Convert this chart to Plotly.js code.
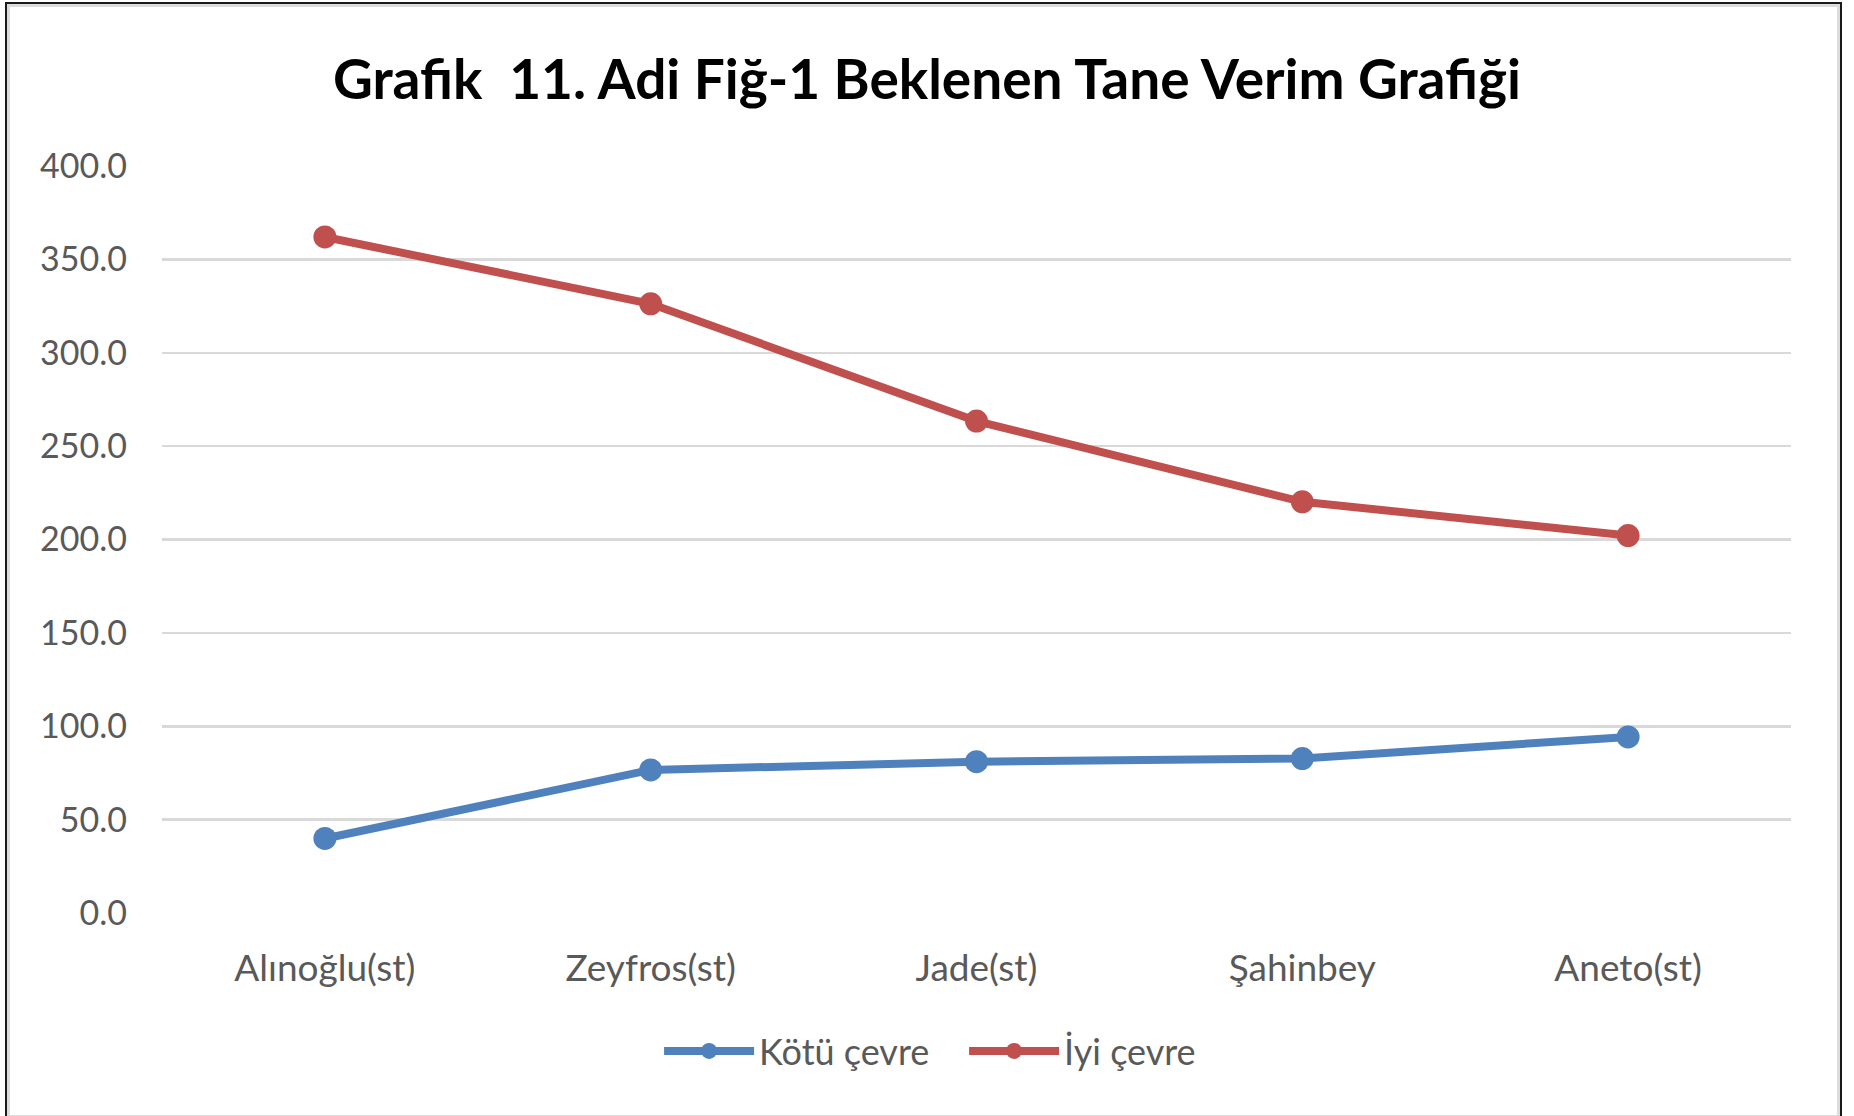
<!DOCTYPE html>
<html>
<head>
<meta charset="utf-8">
<script src="https://cdn.plot.ly/plotly-3.0.1.min.js"></script>
<style>
  html, body { margin: 0; padding: 0; background: #ffffff; overflow: hidden; }
  #chart { position: absolute; left: 0; top: 0; width: 1854px; height: 1116px; }
  #frame { position: absolute; left: 5px; top: 2px; width: 1833px; height: 1114px;
           border: 2px solid #1a1a1a; box-shadow: inset 0 0 0 3px #dcdcdc; pointer-events: none; }
</style>
</head>
<body>
<div id="chart"></div>
<div id="frame"></div>
<script>
const categories = ["Alınoğlu(st)", "Zeyfros(st)", "Jade(st)", "Şahinbey", "Aneto(st)"];
const kotuCevre = [39.9, 76.6, 81.0, 82.7, 94.3];
const iyiCevre = [362.0, 326.2, 263.4, 220.2, 202.1];
const seriesNames = ["Kötü çevre", "İyi çevre"];
const yTicks = [0, 50, 100, 150, 200, 250, 300, 350, 400];
const chartTitle = "Grafik\u00A0 11. Adi Fiğ-1 Beklenen Tane Verim Grafiği";

const FONT = "Lato, 'Open Sans', 'DejaVu Sans', sans-serif";

const traces = [
  {
    x: categories, y: kotuCevre, name: seriesNames[0], type: "scatter", mode: "lines+markers",
    line: { color: "#4F81BD", width: 8 },
    marker: { color: "#4F81BD", size: 23 }
  },
  {
    x: categories, y: iyiCevre, name: seriesNames[1], type: "scatter", mode: "lines+markers",
    line: { color: "#C0504D", width: 8 },
    marker: { color: "#C0504D", size: 23 }
  }
];

const layout = {
  width: 1854, height: 1116,
  paper_bgcolor: "#ffffff", plot_bgcolor: "#ffffff",
  margin: { l: 162, r: 63, t: 166, b: 203 },
  title: {
    text: "<b>" + chartTitle + "</b>",
    x: 0.5, xanchor: "center", xref: "container",
    y: 1 - 80 / 1116, yanchor: "middle", yref: "container",
    font: { family: FONT, size: 55, color: "#000000" }
  },
  xaxis: {
    type: "category",
    range: [-0.5, 4.5],
    showgrid: false, zeroline: false, showline: false,
    ticks: "", ticklabelstandoff: 30,
    tickfont: { family: FONT, size: 37, color: "#595959" }
  },
  yaxis: {
    range: [0, 400],
    tickvals: yTicks, tickformat: ".1f",
    showgrid: true, gridcolor: "#D9D9D9", gridwidth: 2.5,
    zeroline: false, showline: false,
    ticks: "", ticklabelstandoff: 34,
    tickfont: { family: FONT, size: 34, color: "#595959" }
  },
  showlegend: true,
  legend: {
    orientation: "h",
    x: 0.52, xanchor: "center", xref: "container",
    y: 1 - 1051 / 1116, yanchor: "middle", yref: "container",
    font: { family: FONT, size: 36, color: "#595959" },
    itemwidth: 90,
    entrywidth: 200,
    tracegroupgap: 0,
    bgcolor: "rgba(0,0,0,0)"
  }
};

Plotly.newPlot("chart", traces, layout, { displayModeBar: false, staticPlot: true });
</script>
</body>
</html>
